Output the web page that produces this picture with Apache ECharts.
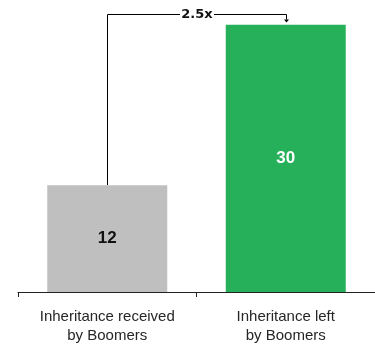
<!DOCTYPE html>
<html>
<head>
<meta charset="utf-8">
<script src="https://cdn.jsdelivr.net/npm/echarts@6/dist/echarts.min.js"></script>
<style>
  html, body { margin: 0; padding: 0; background: #fff; }
  #chart { width: 375px; height: 345px; }
</style>
</head>
<body>
<div id="chart"></div>
<script>
// Inheritance comparison (trillions)
var categories = ['Inheritance received\nby Boomers', 'Inheritance left\nby Boomers'];
var values = [12, 30];
var multipleLabel = '2.5x';

var barColors = ['#bfbfbf', '#27b05a'];
var labelColors = ['#111111', '#ffffff'];

var chart = echarts.init(document.getElementById('chart'), null, { renderer: 'canvas' });

var option = {
  animation: false,
  grid: { left: 18, width: 360, top: 7, bottom: 51 },
  xAxis: {
    type: 'category',
    data: categories,
    axisLine: { lineStyle: { color: '#222', width: 1 } },
    axisTick: { show: true, length: 5, lineStyle: { color: '#222' } },
    axisLabel: {
      color: '#262626',
      fontFamily: 'Liberation Sans, Arial, sans-serif',
      fontSize: 15,
      lineHeight: 19,
      margin: 15
    }
  },
  yAxis: {
    type: 'value',
    min: 0,
    max: 32,
    show: false,
    splitLine: { show: false }
  },
  series: [{
    type: 'bar',
    barWidth: 120,
    data: values.map(function (v, i) {
      return {
        value: v,
        itemStyle: { color: barColors[i] },
        label: { color: labelColors[i] }
      };
    }),
    label: {
      show: true,
      position: 'inside',
      fontFamily: 'Liberation Sans, Arial, sans-serif',
      fontWeight: 'bold',
      fontSize: 17
    }
  }]
};
chart.setOption(option);

// Bracket connecting the two bars with the growth multiple
function drawBracket() {
  var p0 = chart.convertToPixel({ seriesIndex: 0 }, [0, values[0]]);
  var p1 = chart.convertToPixel({ seriesIndex: 0 }, [1, values[1]]);
  var topY = Math.round(p1[1]) - 10.5;
  var x0 = Math.round(p0[0]) + 0.5;
  var x1 = Math.round(p1[0]) + 0.5;
  var midX = (x0 + x1) / 2;
  var gap = 17;
  var stroke = { stroke: '#000', lineWidth: 1 };
  chart.setOption({
    graphic: [
      { type: 'polyline', shape: { points: [[x0, p0[1]], [x0, topY], [midX - gap, topY]] }, style: stroke, silent: true },
      { type: 'polyline', shape: { points: [[midX + gap, topY], [x1, topY], [x1, topY + 5]] }, style: stroke, silent: true },
      { type: 'polygon', shape: { points: [[x1 - 2.5, topY + 5], [x1 + 2.5, topY + 5], [x1, topY + 8]] }, style: { fill: '#000' }, silent: true },
      {
        type: 'text',
        x: midX,
        y: topY,
        style: {
          text: multipleLabel,
          fill: '#111',
          font: 'bold 13px "DejaVu Sans", Verdana, sans-serif',
          align: 'center',
          verticalAlign: 'middle'
        },
        silent: true
      }
    ]
  });
}
drawBracket();
</script>
</body>
</html>
